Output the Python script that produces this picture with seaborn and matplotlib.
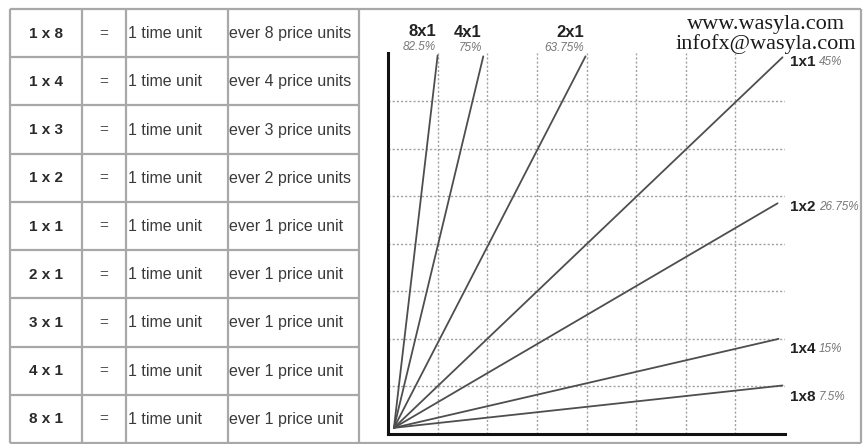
import matplotlib
matplotlib.use("Agg")
import matplotlib.pyplot as plt
import matplotlib.transforms as mtransforms
import seaborn as sns
import pandas as pd

# ---------------- data ----------------
rule_labels = ["1 x 8", "1 x 4", "1 x 3", "1 x 2", "1 x 1", "2 x 1", "3 x 1", "4 x 1", "8 x 1"]
eq_labels = ["="] * 9
time_labels = ["1 time unit"] * 9
price_labels = ["ever 8 price units", "ever 4 price units", "ever 3 price units",
                "ever 2 price units", "ever 1 price unit", "ever 1 price unit",
                "ever 1 price unit", "ever 1 price unit", "ever 1 price unit"]

ray_names = ["8x1", "4x1", "2x1", "1x1", "1x2", "1x4", "1x8"]
ray_angles = ["82.5%", "75%", "63.75%", "45%", "26.75%", "15%", "7.5%"]
ray_start_x = [0.12, 0.12, 0.12, 0.12, 0.12, 0.12, 0.12]
ray_start_y = [0.13, 0.13, 0.13, 0.13, 0.13, 0.13, 0.13]
ray_end_x = [1.0, 1.92, 3.98, 7.95, 7.85, 7.87, 7.95]
ray_end_y = [7.96, 7.94, 7.94, 7.92, 4.85, 2.0, 1.02]
top_labelled = ["8x1", "4x1", "2x1"]

website_lines = ["www.wasyla.com", "infofx@wasyla.com"]

# ---------------- figure ----------------
sns.set_style("white")
plt.rcParams["font.family"] = ["Liberation Sans", "DejaVu Sans"]

W, H = 864, 444
fig = plt.figure(figsize=(W / 100, H / 100), dpi=100)
fig.patch.set_facecolor("white")

# background axes in pixel coordinates (table + panel frame)
bg = fig.add_axes([0, 0, 1, 1])
bg.set_xlim(0, W)
bg.set_ylim(H, 0)
bg.axis("off")

border_c = "#a8a8a8"
col_x = [10, 82, 126, 228, 359, 861]
top_y, bot_y = 9, 443
n_rows = len(rule_labels)
row_h = (bot_y - top_y) / n_rows
row_y = [top_y + i * row_h for i in range(n_rows + 1)]

for x in col_x:
    bg.vlines(x, top_y, bot_y, color=border_c, lw=1.6)
bg.hlines([top_y, bot_y], col_x[0], col_x[-1], color=border_c, lw=1.6)
bg.hlines(row_y[1:-1], col_x[0], col_x[4], color=border_c, lw=1.6)

txt_c = "#3a3a3a"
for i in range(n_rows):
    cy = (row_y[i] + row_y[i + 1]) / 2 + 0.5
    bg.text((col_x[0] + col_x[1]) / 2, cy, rule_labels[i], ha="center", va="center",
            fontsize=11, fontweight="bold", color="#2a2a2a")
    bg.text((col_x[1] + col_x[2]) / 2, cy, eq_labels[i], ha="center", va="center",
            fontsize=11, color="#555555")
    bg.text(col_x[2] + 2, cy, time_labels[i], ha="left", va="center",
            fontsize=11.5, color=txt_c)
    bg.text(col_x[3] + 1, cy, price_labels[i], ha="left", va="center",
            fontsize=11.5, color=txt_c)

# website text
serif = ["Liberation Serif", "DejaVu Serif"]
bg.text(766, 25, website_lines[0], ha="center", va="center", fontsize=16,
        family=serif, color="#1a1a1a")
bg.text(766, 44, website_lines[1], ha="center", va="center", fontsize=16,
        family=serif, color="#1a1a1a")

# ---------------- chart ----------------
x0, x1 = 388, 785
y0, y1 = 434, 53.5
ax = fig.add_axes([x0 / W, 1 - y0 / H, (x1 - x0) / W, (y0 - y1) / H])
ax.set_facecolor("none")

rows = []
for n, sx, sy, ex, ey in zip(ray_names, ray_start_x, ray_start_y, ray_end_x, ray_end_y):
    rows.append({"name": n, "x": sx, "y": sy})
    rows.append({"name": n, "x": ex, "y": ey})
df = pd.DataFrame(rows)

sns.lineplot(data=df, x="x", y="y", hue="name", hue_order=ray_names,
             palette=["#4e4e4e"] * len(ray_names), sort=False, estimator=None,
             legend=False, lw=1.3, ax=ax)

ax.set_xlim(0, 8)
ax.set_ylim(0, 8)
ax.set_xticks(range(1, 8))
ax.set_yticks(range(1, 8))
ax.set_xticklabels([])
ax.set_yticklabels([])
ax.tick_params(length=0)
ax.set_xlabel("")
ax.set_ylabel("")
ax.grid(True, color="#a0a0a0", lw=1.0, linestyle=(0, (1.5, 1.5)))
for s in ["top", "right"]:
    ax.spines[s].set_visible(False)
for s in ["left", "bottom"]:
    ax.spines[s].set_color("#111111")
    ax.spines[s].set_linewidth(2.2)

# right-hand labels sit just past the chart's right edge
right_tr = mtransforms.blended_transform_factory(ax.transAxes, ax.transData)
right_dy = {"1x1": -3.5, "1x2": -3, "1x4": -7.5, "1x8": -8}  # points below line end

for n, a, ex, ey in zip(ray_names, ray_angles, ray_end_x, ray_end_y):
    if n in top_labelled:
        ax.annotate(n, (ex, ey), xytext=(-1, 17.5), textcoords="offset points",
                    ha="right", va="center", fontsize=12, fontweight="bold",
                    color="#222222", annotation_clip=False)
        ax.annotate(a, (ex, ey), xytext=(-1, 6), textcoords="offset points",
                    ha="right", va="center", fontsize=8.5, fontstyle="italic",
                    color="#777777", annotation_clip=False)
    else:
        dy = right_dy[n]
        ax.annotate(n, (1.0, ey), xycoords=right_tr, xytext=(3.5, dy),
                    textcoords="offset points", ha="left", va="center",
                    fontsize=11, fontweight="bold", color="#222222",
                    annotation_clip=False)
        ax.annotate(a, (1.0, ey), xycoords=right_tr, xytext=(24.5, dy),
                    textcoords="offset points", ha="left", va="center",
                    fontsize=8.5, fontstyle="italic", color="#777777",
                    annotation_clip=False)

fig.savefig("out.png", dpi=100, facecolor="white")
